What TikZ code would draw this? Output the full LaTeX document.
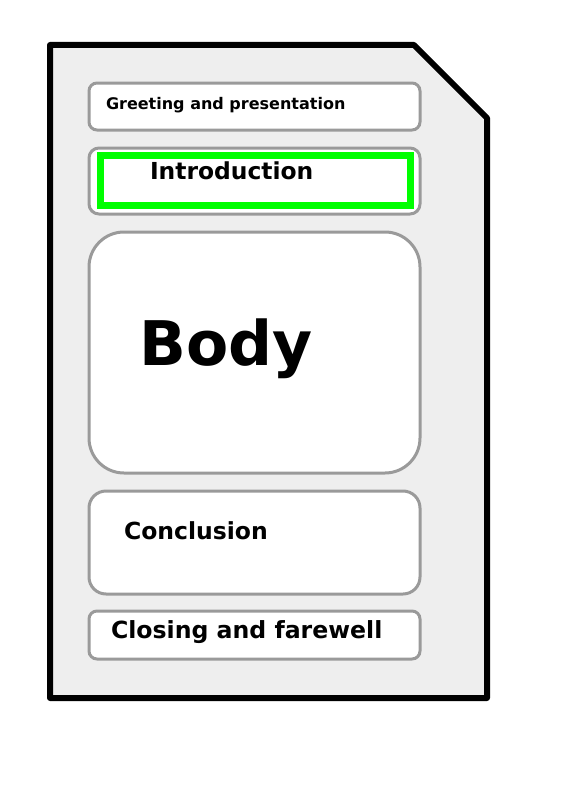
\documentclass[tikz,border=0pt]{standalone}
\usepackage{fontspec}
\setmainfont{DejaVu Sans}
\definecolor{docfill}{HTML}{EEEEEE}
\definecolor{boxline}{HTML}{9A9A9A}
\definecolor{hl}{HTML}{00FF00}
\begin{document}
\begin{tikzpicture}[x=1pt,y=-1pt,
  sect/.style={draw=boxline,line width=3pt,fill=white,inner sep=0pt,outer sep=0pt},
  lbl/.style={inner sep=0pt,outer sep=0pt,anchor=base west,font=\bfseries}]
\useasboundingbox (0,0) rectangle (566,800);
\draw[line width=6pt,fill=docfill,line join=round] (50,45) -- (414,45) -- (487,118) -- (487,698) -- (50,698) -- cycle;
\node[sect,rounded corners=8pt,minimum width=331pt,minimum height=47pt] (greet) at (254.5,106.5) {};
\node[sect,rounded corners=10pt,minimum width=331pt,minimum height=66pt] (intro) at (254.5,181) {};
\node[draw=hl,line width=7pt,inner sep=0pt,minimum width=310pt,minimum height=50pt] (introhl) at (255,180.5) {};
\node[sect,rounded corners=35pt,minimum width=331pt,minimum height=241pt] (body) at (254.5,352.5) {};
\node[sect,rounded corners=17pt,minimum width=331pt,minimum height=103pt] (concl) at (254.5,542.5) {};
\node[sect,rounded corners=8pt,minimum width=331pt,minimum height=48pt] (close) at (254.5,635) {};
\node[lbl,font=\bfseries\fontsize{16}{18}\selectfont] (tgreet) at (106,109) {Greeting and presentation};
\node[lbl,font=\bfseries\fontsize{23.4}{26}\selectfont] (tintro) at (150,179.5) {Introduction};
\node[lbl,font=\bfseries\fontsize{61.5}{70}\selectfont] (tbody) at (139.5,365) {Body};
\node[lbl,font=\bfseries\fontsize{23.5}{26}\selectfont] (tconcl) at (124,539.5) {Conclusion};
\node[lbl,font=\bfseries\fontsize{23.6}{26}\selectfont] (tclose) at (111,638.5) {Closing and farewell};
\end{tikzpicture}
\end{document}
